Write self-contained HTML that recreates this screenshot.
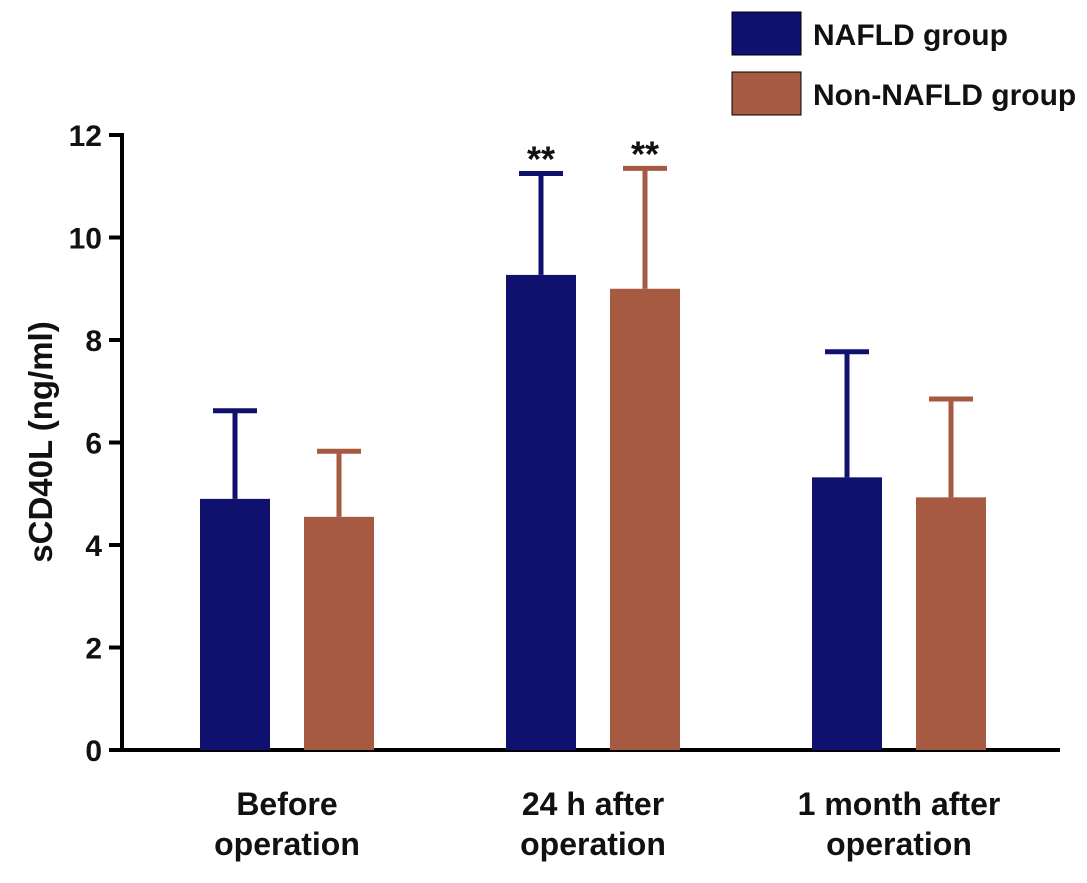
<!DOCTYPE html>
<html><head><meta charset="utf-8"><style>
body{margin:0;background:#fff}
svg text{font-family:"Liberation Sans",Arial,sans-serif;font-weight:bold;fill:#111}
</style></head><body>
<svg id="chart" width="1087" height="878" viewBox="0 0 1087 878" xmlns="http://www.w3.org/2000/svg">
<g>
<rect x="732" y="12" width="69" height="43" fill="#10106e" stroke="#000" stroke-width="1"/>
<text x="813" y="45" font-size="30">NAFLD group</text>
<rect x="732" y="72" width="69" height="43" fill="#a65a42" stroke="#000" stroke-width="1"/>
<text x="813" y="105" font-size="30">Non-NAFLD group</text>
</g>
<text transform="translate(52,442) rotate(-90)" text-anchor="middle" font-size="33">sCD40L (ng/ml)</text>
<g id="plot"></g>
</svg>
<script>
const categories=[["Before","operation"],["24 h after","operation"],["1 month after","operation"]];
const naflValues=[4.9,9.27,5.32];
const naflErrors=[1.72,1.98,2.45];
const nonValues=[4.55,9.0,4.93];
const nonErrors=[1.28,2.35,1.92];
const yTicks=[0,2,4,6,8,10,12];
const sig=["","**",""];
const NS="http://www.w3.org/2000/svg";
const g=document.getElementById('plot');
const y0=750,y1=135,x0=122,x1=1060;
const y=v=>y0-(v/12)*(y0-y1);
const xc=i=>287+i*306;
function mk(t,a,txt){const e=document.createElementNS(NS,t);for(const k in a)e.setAttribute(k,a[k]);if(txt!==undefined)e.textContent=txt;g.appendChild(e);return e;}
const ax=mk('line',{x1:x0,y1:y1-2,x2:x0,y2:y0+2,stroke:'#000','stroke-width':4});

const xa=mk('line',{x1:x0-2,y1:y0,x2:x1,y2:y0,stroke:'#000','stroke-width':4});

yTicks.forEach(t=>{
 const l=mk('line',{x1:x0-13,y1:y(t),x2:x0,y2:y(t),stroke:'#000','stroke-width':4});
 
 const tx=mk('text',{x:x0-20,y:y(t)+11,'text-anchor':'end','font-size':30},String(t));
 
});
const bw=70;
function bar(cx,v,e,color,name){
 const r=mk('rect',{x:cx-bw/2,y:y(v),width:bw,height:y0-y(v),fill:color});
 
 const l=mk('line',{x1:cx,y1:y(v),x2:cx,y2:y(v+e),stroke:color,'stroke-width':5});
 
 const c=mk('line',{x1:cx-22,y1:y(v+e),x2:cx+22,y2:y(v+e),stroke:color,'stroke-width':5});
 
 return y(v+e);
}
categories.forEach((c,i)=>{
 const a=bar(xc(i)-52,naflValues[i],naflErrors[i],'#10106e','bar-nafld');
 const b=bar(xc(i)+52,nonValues[i],nonErrors[i],'#a65a42','bar-non-nafld');
 if(sig[i]){
  const s1=mk('text',{x:xc(i)-52,y:a-2,'text-anchor':'middle','font-size':36},sig[i]);
  
  const s2=mk('text',{x:xc(i)+52,y:b-2,'text-anchor':'middle','font-size':36},sig[i]);
  
 }
 c.forEach((ln,j)=>{
  const t=mk('text',{x:xc(i),y:815+j*40,'text-anchor':'middle','font-size':32},ln);
  
 });
});
</script>
</body></html>
